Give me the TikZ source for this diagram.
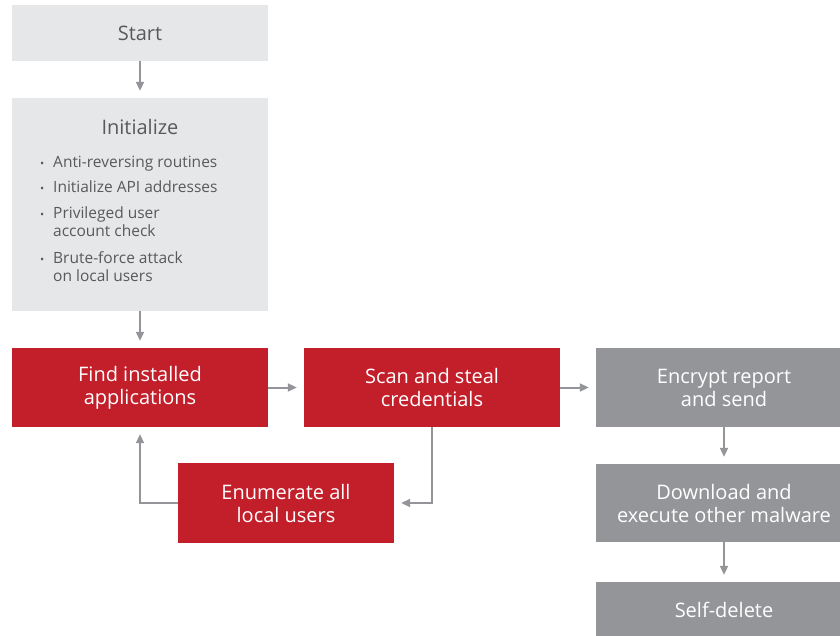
\documentclass[tikz,border=0pt]{standalone}
\usepackage{fontspec}
\setmainfont{Open Sans}
\usetikzlibrary{positioning,arrows.meta}
\definecolor{boxred}{HTML}{C21F2B}
\definecolor{boxgray}{HTML}{939598}
\definecolor{boxlight}{HTML}{E6E7E8}
\definecolor{textdark}{HTML}{58595B}
\definecolor{arrowgray}{HTML}{939598}
\newcommand\bul[1]{\makebox[13pt][l]{\fontsize{11}{11}\selectfont•}#1}
\tikzset{%
  >={Triangle[length=9pt,width=8pt]},
  stage/.style={minimum width=256pt,minimum height=79pt,inner sep=0pt,
    align=center,font=\fontsize{20}{23}\selectfont},
  lightstage/.style={stage,fill=boxlight,text=textdark},
  redstage/.style={stage,fill=boxred,text=white},
  graystage/.style={stage,fill=boxgray,text=white},
  flow/.style={->,draw=arrowgray,line width=2pt,shorten >=7pt},
  bullets/.style={anchor=base west,inner sep=0pt,align=left,text=textdark,
    font=\fontsize{15.5}{18}\selectfont}
}
\begin{document}
\begin{tikzpicture}[x=1pt,y=-1pt]
\clip (0,0) rectangle (840,636);

%% left column
\node[lightstage,minimum height=56pt] (start) at (140,33) {Start};
\node[lightstage,minimum height=213pt] (init) at (140,204.5) {};
\node[text=textdark,font=\fontsize{20}{23}\selectfont] (inittitle) at (140,127) {Initialize};
% bullet lines, placed at the baseline of their last line
\node[bullets] (b1) at (40,168) {\bul{Anti-reversing routines}};
\node[bullets] (b2) at (40,193) {\bul{Initialize API addresses}};
\node[bullets] (b3) at (40,237) {\bul{Privileged user}\\\hspace*{13pt}account check};
\node[bullets] (b4) at (40,281) {\bul{Brute-force attack}\\\hspace*{13pt}on local users};

%% main loop
\node[redstage] (find) at (140,387.5) {Find installed\\applications};
\node[redstage] (scan) at (432,387.5) {Scan and steal\\credentials};
\node[redstage,minimum width=216pt,minimum height=80pt] (enum) at (286,503) {Enumerate all\\local users};

%% right column
\node[graystage] (encrypt) at (724,387.5) {Encrypt report\\and send};
\node[graystage,minimum height=78pt] (download) at (724,503) {Download and\\execute other malware};
\node[graystage,minimum height=56pt] (selfdel) at (724,610) {Self-delete};

%% connectors
\draw[flow] (start) -- (init);
\draw[flow] (init) -- (find);
\draw[flow] (find) -- (scan);
\draw[flow] (scan) -- (encrypt);
\draw[flow] (scan.south) |- (enum.east);
\draw[flow] (enum.west) -| (find.south);
\draw[flow] (encrypt) -- (download);
\draw[flow] (download) -- (selfdel);
\end{tikzpicture}
\end{document}
